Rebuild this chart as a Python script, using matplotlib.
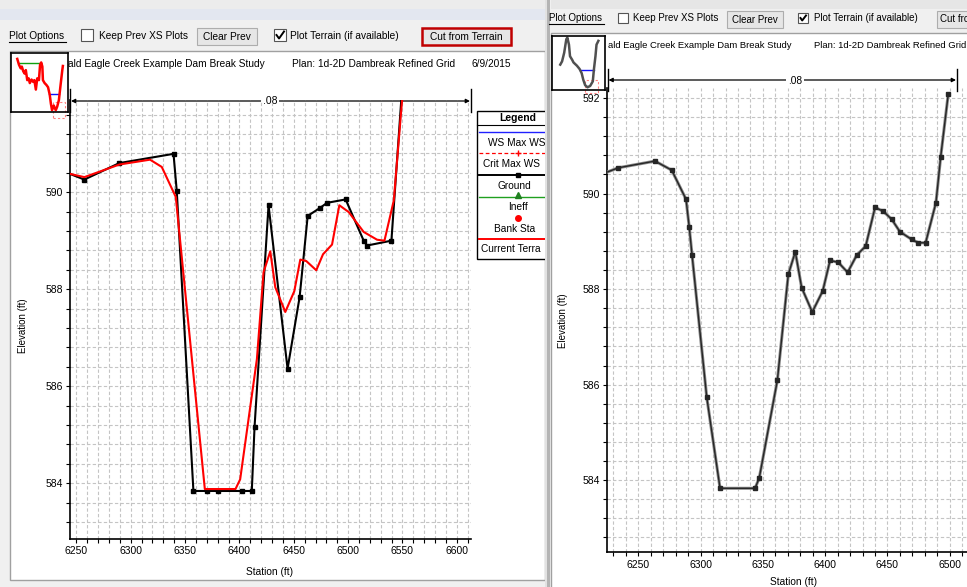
import matplotlib
matplotlib.use("Agg")
import matplotlib.pyplot as plt
from matplotlib.patches import Rectangle
from matplotlib.ticker import MultipleLocator

plt.rcParams.update({
    "font.family": ["Liberation Sans", "DejaVu Sans"],
    "font.size": 7.3,
})

# ---- left window: 1D ground geometry vs. current terrain -------------
GROUND_STA = [6230, 6257.4, 6289.6, 6339.4, 6342.4, 6357.7, 6370, 6380.6,
              6402.8, 6411.4, 6413.9, 6426.8, 6444.3, 6455.4, 6462.8,
              6473.8, 6480.6, 6497.7, 6514.3, 6517.4, 6539.8, 6552]
GROUND_ELEV = [590.50, 590.26, 590.60, 590.79, 590.02, 583.84, 583.84,
               583.84, 583.84, 583.84, 585.15, 589.73, 586.36, 587.84,
               589.51, 589.67, 589.78, 589.85, 589.00, 588.90, 589.00, 592.9]

TERRAIN_STA = [6230, 6257.4, 6289.6, 6317.8, 6328.6, 6341.5, 6368.2, 6396.4,
               6400.7, 6416.1, 6422.2, 6428.4, 6433, 6442.2, 6450.5, 6456,
               6461.5, 6470.7, 6476.9, 6485.2, 6491.9, 6500.5, 6514.3,
               6526.6, 6533.4, 6542, 6548.7, 6552]
TERRAIN_ELEV = [590.45, 590.31, 590.57, 590.67, 590.52, 589.90, 583.88,
                583.88, 584.08, 586.56, 588.35, 588.78, 588.04, 587.53,
                587.96, 588.61, 588.58, 588.39, 588.72, 588.92, 589.73,
                589.59, 589.18, 589.02, 589.00, 589.83, 591.65, 592.5]

# ---- right window: ground cut from terrain ----------------------------
CUT_STA = [6220, 6234, 6263.4, 6276.8, 6288.3, 6290.9, 6293.1, 6304.9,
           6315.6, 6343.7, 6347.1, 6361.6, 6370.4, 6376, 6381.1, 6389.6,
           6398, 6403.9, 6410.5, 6418, 6425.3, 6432.5, 6440, 6446.6, 6453.4,
           6460, 6469.4, 6474.7, 6480.6, 6488.9, 6492.7, 6498.8]
CUT_ELEV = [590.40, 590.54, 590.68, 590.49, 589.88, 589.29, 588.72, 585.74,
            583.83, 583.83, 584.05, 586.09, 588.31, 588.78, 588.03, 587.52,
            587.96, 588.60, 588.56, 588.35, 588.71, 588.90, 589.71, 589.63,
            589.46, 589.20, 589.04, 588.97, 588.97, 589.81, 590.77, 592.09]

# ---- overview thumbnails (relative units 0-100) ----------------------
THUMB_L_X = [11, 14, 17, 19, 21.5, 24, 26, 28.5, 31, 33, 36, 39, 41, 43.6,
             46, 49, 51, 53, 55, 56, 59, 62, 65, 68, 70, 72, 75, 78.5, 81,
             84, 87, 90, 91]
THUMB_L_Y = [90, 80, 74, 77, 69, 65, 71, 54, 57, 49, 55, 51, 54, 38, 57, 54,
             80, 84, 77, 54, 49, 46, 42, 29, 14, 3, 11, 3, 9, 20, 46, 71, 78]
THUMB_R_X = [15.6, 19, 23, 27, 29, 32, 34, 38, 40.6, 47, 52, 56, 59, 62.5,
             67, 72, 77, 79, 82, 84, 87.5]
THUMB_R_Y = [47, 53, 69, 94, 97, 84, 62.5, 56, 51, 45, 39, 31, 19, 9, 5,
             7.5, 16, 37.5, 62.5, 84, 91]

TITLE = "ald Eagle Creek Example Dam Break Study"
PLAN = "Plan: 1d-2D Dambreak Refined Grid"
DATE = "6/9/2015"
N_VALUE = ".08"

W, H = 967, 587
fig = plt.figure(figsize=(W / 100, H / 100), dpi=100, facecolor="#f0f0f0")


def px_axes(x0, y0, x1, y1, **kw):
    return fig.add_axes([x0 / W, 1 - y1 / H, (x1 - x0) / W, (y1 - y0) / H], **kw)


# background / window chrome in pixel coordinates
ui = px_axes(0, 0, W, H)
ui.set_xlim(0, W)
ui.set_ylim(H, 0)
ui.axis("off")
ui.set_zorder(0)


def rect(x0, y0, x1, y1, **kw):
    ui.add_patch(Rectangle((x0, y0), x1 - x0, y1 - y0, **kw))


rect(0, 0, 545, 9, fc="#ececec", ec="none")
rect(0, 9, 545, 20, fc="#e3e7f0", ec="none")
rect(551, 0, W, 9, fc="#e6e6e6", ec="none")
rect(10, 51, 545, 580, fc="white", ec="#a0a0a0", lw=1)
rect(551, 33, W + 5, H + 5, fc="white", ec="#a0a0a0", lw=1)
rect(545, 0, 547, H, fc="#e2e2e2", ec="none")
rect(547, 0, 550, H, fc="#b4b4b4", ec="none")


def checkbox(x, y, s, checked):
    rect(x, y, x + s, y + s, fc="white", ec="#555555", lw=0.8)
    if checked:
        ui.plot([x + 2.5, x + s * 0.42, x + s - 2], [y + s * 0.5, y + s - 2.5, y + 2.5],
                color="black", lw=1.4)


def button(x0, y0, x1, y1, label, ec="#adadad", lw=0.8, size=7.3):
    rect(x0, y0, x1, y1, fc="#e6e6e6", ec=ec, lw=lw)
    ui.text((x0 + x1) / 2, (y0 + y1) / 2 + 0.5, label, ha="center", va="center",
            fontsize=size)


# left toolbar
ui.text(9, 36, "Plot Options", va="center")
ui.plot([9, 66], [42, 42], color="black", lw=0.8)
checkbox(81, 29, 12, False)
ui.text(99, 36, "Keep Prev XS Plots", va="center")
button(197, 28, 257, 45, "Clear Prev")
checkbox(274, 29, 12, True)
ui.text(290, 36, "Plot Terrain (if available)", va="center")
button(422, 28, 511, 45, "Cut from Terrain", ec="#c00000", lw=1.8)
ui.text(68, 64, TITLE, va="center")
ui.text(292, 64, PLAN, va="center")
ui.text(472, 64, DATE, va="center")

# right toolbar
ui.text(549, 18, "Plot Options", va="center", fontsize=7)
ui.plot([549, 604], [24, 24], color="black", lw=0.8)
checkbox(618, 13, 10, False)
ui.text(633, 18, "Keep Prev XS Plots", va="center", fontsize=7)
button(727, 11, 783, 28, "Clear Prev", size=7)
checkbox(798, 13, 10, True)
ui.text(814, 18, "Plot Terrain (if available)", va="center", fontsize=7)
rect(937, 11, W + 20, 28, fc="#e6e6e6", ec="#adadad", lw=0.8)
ui.text(940, 19.5, "Cut from Terrain", va="center", fontsize=7)
ui.text(608, 46, TITLE, va="center", fontsize=6.8)
ui.text(814, 46, PLAN, va="center", fontsize=6.8)


def n_line(x0, x1, y, t0, t1, xt, size):
    ui.plot([x0, x0], [t0, t1], color="black", lw=1)
    ui.plot([x1, x1], [t0, t1], color="black", lw=1)
    ui.annotate("", xy=(x0 + 1, y), xytext=(xt, y),
                arrowprops=dict(arrowstyle="-|>", color="black", lw=0.9,
                                mutation_scale=6, shrinkA=0, shrinkB=0))
    ui.annotate("", xy=(x1 - 1, y), xytext=(xt, y),
                arrowprops=dict(arrowstyle="-|>", color="black", lw=0.9,
                                mutation_scale=6, shrinkA=0, shrinkB=0))
    ui.text(xt, y + 0.5, N_VALUE, ha="center", va="center", fontsize=size,
            bbox=dict(fc="white", ec="none", pad=1.2))


n_line(70, 471, 101, 89, 112, 270, 7.5)
n_line(607.5, 957, 80, 69, 91, 795, 7.3)

# axis titles
ui.text(23, 326, "Elevation (ft)", rotation=90, ha="center", va="center", fontsize=7)
ui.text(270, 572, "Station (ft)", ha="center", va="center", fontsize=7.3)
ui.text(563, 321, "Elevation (ft)", rotation=90, ha="center", va="center", fontsize=7)
ui.text(794, 582, "Station (ft)", ha="center", va="center", fontsize=7.3)

# ---- legend (clipped by the window edge) ------------------------------
lg = px_axes(476, 109, 545, 262)
lg.set_xlim(476, 545)
lg.set_ylim(262, 109)
lg.axis("off")
lg.set_zorder(2)
lg.add_patch(Rectangle((477, 111), 120, 148, fc="white", ec="black", lw=1))
lg.plot([477, 600], [125, 125], color="black", lw=0.8)
lg.text(518, 118, "Legend", ha="center", va="center", fontweight="bold",
        fontsize=7.5, clip_on=True)
lg.plot([479, 560], [132.3, 132.3], color="#2020ff", lw=1)
lg.text(488, 143.5, "WS Max WS", va="center", clip_on=True)
lg.plot([479, 560], [153.3, 153.3], color="red", lw=0.9, ls=(0, (3, 2)))
lg.plot([518], [153.3], marker="+", color="red", ms=5, mew=1)
lg.text(483, 164, "Crit Max WS", va="center", clip_on=True)
lg.plot([479, 560], [175, 175], color="black", lw=1.4)
lg.plot([518], [175], marker="s", color="black", ms=3.5)
lg.text(498, 185.7, "Ground", va="center", clip_on=True)
lg.plot([479, 560], [196.7, 196.7], color="#20a020", lw=1)
lg.plot([518], [194.5], marker="^", color="#208020", ms=5)
lg.text(508, 207.5, "Ineff", va="center", clip_on=True)
lg.plot([518], [218.3], marker="o", color="red", ms=4)
lg.text(494, 228.5, "Bank Sta", va="center", clip_on=True)
lg.plot([479, 560], [239.3, 239.3], color="red", lw=1.4)
lg.text(481.5, 249.5, "Current Terra", va="center", clip_on=True)
for art in lg.lines + lg.patches:
    art.set_clip_on(True)


# ---- cross-section plots -------------------------------------------
def style_xs(ax, xlim, ylim):
    ax.set_xlim(*xlim)
    ax.set_ylim(*ylim)
    ax.patch.set_alpha(0)
    ax.set_zorder(1)
    for side in ("top", "right"):
        ax.spines[side].set_visible(False)
    for side in ("left", "bottom"):
        ax.spines[side].set_linewidth(1.2)
    ax.xaxis.set_major_locator(MultipleLocator(50))
    ax.xaxis.set_minor_locator(MultipleLocator(10))
    ax.yaxis.set_major_locator(MultipleLocator(2))
    ax.yaxis.set_minor_locator(MultipleLocator(0.4))
    ax.grid(True, which="both", color="#c4c4c4", lw=0.8, ls=(0, (3, 2)))
    ax.tick_params(which="both", direction="out", length=3.2, width=0.8,
                   labelsize=7.5, pad=2)
    ax.set_axisbelow(True)


axL = px_axes(70, 100, 471, 539)
style_xs(axL, (6244.2, 6613), (582.85, 591.9))
axL.plot(GROUND_STA, GROUND_ELEV, color="black", lw=1.5, marker="s", ms=3.4,
         zorder=3)
axL.plot(TERRAIN_STA, TERRAIN_ELEV, color="#ff0000", lw=1.5, zorder=4)

axR = px_axes(607.3, 88, 1000, 552.3)
style_xs(axR, (6225.1, 6540.3), (582.49, 592.21))
axR.plot(CUT_STA, CUT_ELEV, color="#8a8a8a", lw=2.2, zorder=3)
axR.plot(CUT_STA, CUT_ELEV, color="#262626", lw=1.0, marker="s", ms=3.0,
         zorder=4)

# ---- overview thumbnails ---------------------------------------------
def thumb(x0, y0, x1, y1, xs, ys, color, green, blue, box):
    ax = px_axes(x0, y0, x1, y1)
    ax.set_xlim(0, 100)
    ax.set_ylim(0, 100)
    ax.set_xticks([])
    ax.set_yticks([])
    ax.set_zorder(3)
    for s in ax.spines.values():
        s.set_linewidth(1.2)
    if green:
        ax.plot(green[0], green[1], color="#10a010", lw=1)
    ax.plot(blue[0], blue[1], color="#1010ff", lw=1)
    ax.plot(xs, ys, color=color, lw=1.8)
    ax.add_patch(Rectangle((box[0], box[1]), box[2], box[3], fc="none",
                           ec="#ff8080", lw=0.8, ls=(0, (2, 2)), clip_on=False))


thumb(11, 53, 68, 112, THUMB_L_X, THUMB_L_Y, "#ff0000",
      ([14, 53], [83, 83]), ([66, 85], [31, 31]), (73, -10, 22, 27))
thumb(552, 36, 605, 90, THUMB_R_X, THUMB_R_Y, "#505050",
      None, ([52, 79], [37.5, 37.5]), (62, -6, 25, 24))

fig.savefig("out.png", dpi=100, facecolor=fig.get_facecolor())
